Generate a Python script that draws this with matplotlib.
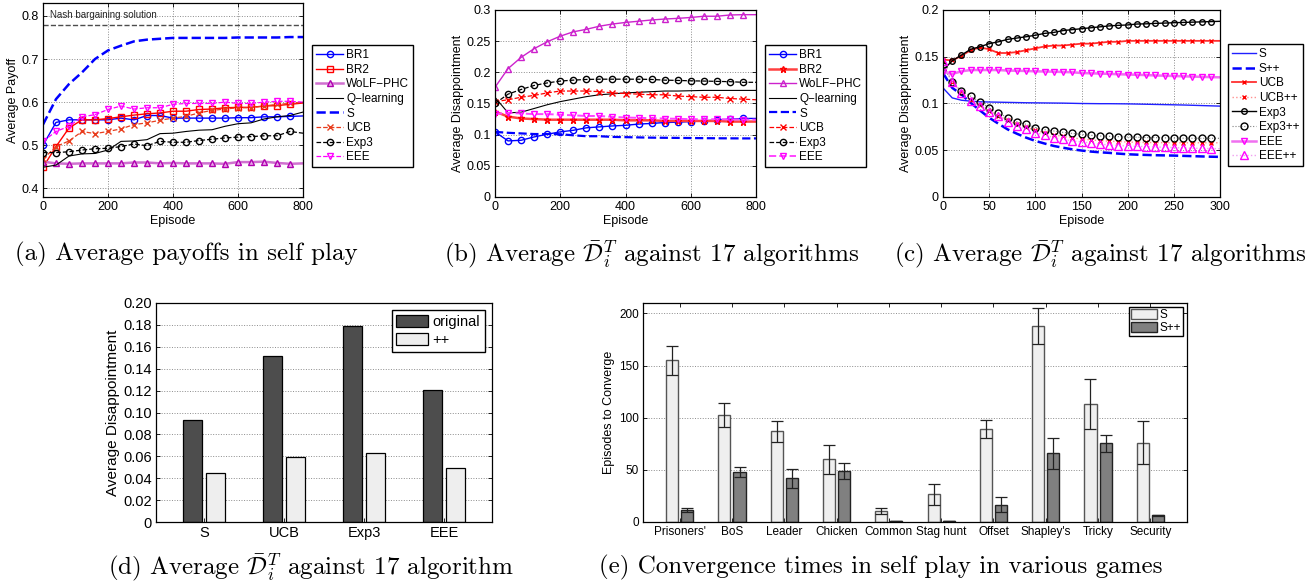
import numpy as np
import matplotlib
matplotlib.use('Agg')
import matplotlib.pyplot as plt
from matplotlib.ticker import FuncFormatter

plt.rcParams['font.family'] = ['Liberation Sans', 'DejaVu Sans']
plt.rcParams['mathtext.fontset'] = 'cm'

# ---------------- data ----------------
# (a) average payoffs in self play, one point every 40 episodes
ep_a = [0, 40, 80, 120, 160, 200, 240, 280, 320, 360, 400, 440, 480, 520, 560, 600, 640, 680, 720, 760, 800]
a_br1 = [0.500, 0.553, 0.559, 0.559, 0.559, 0.559, 0.563, 0.559, 0.569, 0.569, 0.563, 0.563, 0.563, 0.563, 0.563, 0.564, 0.564, 0.566, 0.566, 0.567, 0.568]
a_br2 = [0.449, 0.497, 0.540, 0.559, 0.559, 0.562, 0.566, 0.570, 0.573, 0.575, 0.579, 0.579, 0.583, 0.584, 0.587, 0.588, 0.588, 0.591, 0.592, 0.595, 0.598]
a_wolf = [0.462, 0.458, 0.457, 0.458, 0.458, 0.458, 0.458, 0.460, 0.460, 0.458, 0.459, 0.458, 0.458, 0.458, 0.457, 0.461, 0.461, 0.462, 0.459, 0.457, 0.458]
a_q = [0.449, 0.454, 0.475, 0.480, 0.481, 0.489, 0.509, 0.510, 0.513, 0.527, 0.528, 0.532, 0.535, 0.536, 0.544, 0.550, 0.552, 0.561, 0.566, 0.569, 0.577]
a_s = [0.548, 0.607, 0.642, 0.669, 0.700, 0.720, 0.731, 0.741, 0.745, 0.747, 0.749, 0.749, 0.749, 0.749, 0.749, 0.750, 0.750, 0.750, 0.750, 0.751, 0.751]
a_ucb = [0.468, 0.497, 0.510, 0.532, 0.527, 0.532, 0.538, 0.548, 0.552, 0.558, 0.563, 0.567, 0.575, 0.581, 0.584, 0.587, 0.587, 0.591, 0.595, 0.597, 0.600]
a_exp3 = [0.483, 0.483, 0.485, 0.489, 0.492, 0.493, 0.497, 0.503, 0.499, 0.509, 0.507, 0.507, 0.511, 0.514, 0.517, 0.519, 0.520, 0.522, 0.522, 0.532, 0.528]
a_eee = [0.509, 0.532, 0.544, 0.566, 0.571, 0.583, 0.591, 0.584, 0.587, 0.587, 0.595, 0.597, 0.597, 0.597, 0.600, 0.597, 0.597, 0.600, 0.602, 0.602, 0.600]
nash_value = 0.778

# (b) average disappointment against 17 algorithms
b_br1 = [0.1045, 0.090, 0.091, 0.0964, 0.1007, 0.1045, 0.107, 0.111, 0.1125, 0.114, 0.115, 0.117, 0.118, 0.1195, 0.120, 0.121, 0.122, 0.1237, 0.1248, 0.126, 0.126]
b_br2 = [0.137, 0.129, 0.126, 0.125, 0.124, 0.124, 0.124, 0.124, 0.124, 0.124, 0.123, 0.123, 0.123, 0.122, 0.122, 0.122, 0.122, 0.122, 0.121, 0.121, 0.121]
b_wolf = [0.176, 0.206, 0.224, 0.238, 0.249, 0.258, 0.265, 0.269, 0.274, 0.2775, 0.280, 0.282, 0.284, 0.2855, 0.2866, 0.288, 0.290, 0.290, 0.292, 0.2925, 0.2925]
b_q = [0.160, 0.135, 0.136, 0.142, 0.148, 0.153, 0.157, 0.161, 0.164, 0.1655, 0.167, 0.168, 0.169, 0.170, 0.170, 0.1705, 0.171, 0.171, 0.171, 0.171, 0.171]
b_s = [0.1045, 0.103, 0.102, 0.101, 0.101, 0.1007, 0.099, 0.0975, 0.0975, 0.0964, 0.096, 0.0956, 0.0952, 0.095, 0.0948, 0.0946, 0.0944, 0.0942, 0.0941, 0.094, 0.094]
b_ucb = [0.153, 0.156, 0.160, 0.163, 0.167, 0.170, 0.170, 0.170, 0.169, 0.167, 0.166, 0.165, 0.164, 0.164, 0.162, 0.161, 0.160, 0.160, 0.158, 0.157, 0.156]
b_exp3 = [0.150, 0.165, 0.1725, 0.179, 0.183, 0.186, 0.1875, 0.1886, 0.189, 0.189, 0.189, 0.189, 0.1886, 0.1875, 0.187, 0.1864, 0.186, 0.1855, 0.185, 0.184, 0.184]
b_eee = [0.133, 0.135, 0.134, 0.133, 0.133, 0.132, 0.131, 0.130, 0.130, 0.1286, 0.1275, 0.127, 0.1264, 0.1259, 0.1255, 0.1248, 0.1248, 0.1248, 0.1245, 0.1243, 0.124]

# (c) original vs ++ versions, one point every 10 episodes
ep_c = [0, 10, 20, 30, 40, 50, 60, 70, 80, 90, 100, 110, 120, 130, 140, 150, 160, 170, 180, 190, 200,
        210, 220, 230, 240, 250, 260, 270, 280, 290, 300]
c_s = [0.1167, 0.106, 0.1035, 0.1025, 0.1018, 0.1016, 0.1014, 0.1012, 0.1010, 0.1008, 0.1007, 0.1006, 0.1005, 0.1004, 0.1002, 0.1000,
       0.0999, 0.0998, 0.0998, 0.0997, 0.0996, 0.0994, 0.0992, 0.0990, 0.0988, 0.0986, 0.0984, 0.0981, 0.0978, 0.0975, 0.0972]
c_spp = [0.1326, 0.1167, 0.1096, 0.1007, 0.0926, 0.0848, 0.0784, 0.0723, 0.0677, 0.0635, 0.0600, 0.0572, 0.0546, 0.0527, 0.0510, 0.0497,
         0.0486, 0.0478, 0.0472, 0.0464, 0.0457, 0.0453, 0.0450, 0.0447, 0.0445, 0.0443, 0.0440, 0.0437, 0.0434, 0.0431, 0.0429]
c_ucb = [0.147, 0.146, 0.151, 0.157, 0.160, 0.158, 0.154, 0.154, 0.155, 0.157, 0.159, 0.161, 0.162, 0.162, 0.163, 0.164,
         0.164, 0.165, 0.166, 0.166, 0.167, 0.167, 0.167, 0.167, 0.167, 0.167, 0.167, 0.167, 0.167, 0.167, 0.167]
c_ucbpp = [0.145, 0.123, 0.112, 0.104, 0.098, 0.092, 0.087, 0.082, 0.078, 0.0745, 0.0713, 0.0688, 0.0665, 0.0648, 0.0633, 0.062,
           0.061, 0.0603, 0.0597, 0.0592, 0.0588, 0.0585, 0.0583, 0.0582, 0.0581, 0.058, 0.058, 0.058, 0.058, 0.058, 0.058]
c_exp3 = [0.1357, 0.1457, 0.1518, 0.158, 0.1607, 0.164, 0.166, 0.1686, 0.170, 0.1714, 0.173, 0.175, 0.176, 0.178, 0.179, 0.180,
          0.181, 0.182, 0.183, 0.1836, 0.184, 0.185, 0.1852, 0.1857, 0.186, 0.1864, 0.1867, 0.187, 0.1873, 0.1876, 0.1879]
c_exp3pp = [0.140, 0.123, 0.1131, 0.1078, 0.1018, 0.0954, 0.090, 0.0848, 0.0805, 0.0777, 0.0741, 0.072, 0.0706, 0.0691, 0.068, 0.067,
            0.066, 0.0652, 0.0649, 0.0645, 0.0642, 0.064, 0.0635, 0.0635, 0.0632, 0.0631, 0.0629, 0.0628, 0.0628, 0.0628, 0.0628]
c_eee = [0.134, 0.1316, 0.1344, 0.1358, 0.1358, 0.1358, 0.1358, 0.1352, 0.1350, 0.1348, 0.1344, 0.1342, 0.1340, 0.1337, 0.1334, 0.1326,
         0.1323, 0.1320, 0.1317, 0.1313, 0.1310, 0.1307, 0.1304, 0.1300, 0.1297, 0.1294, 0.1291, 0.1288, 0.1285, 0.1282, 0.128]
c_eeepp = [0.145, 0.123, 0.1113, 0.103, 0.097, 0.0911, 0.0865, 0.080, 0.0759, 0.0723, 0.0688, 0.0663, 0.0635, 0.0617, 0.060, 0.0589,
           0.0578, 0.0564, 0.0557, 0.055, 0.0546, 0.0542, 0.0539, 0.0535, 0.0532, 0.0529, 0.0525, 0.0522, 0.052, 0.0518, 0.0516]

# (d) bar chart
d_algos = ['S', 'UCB', 'Exp3', 'EEE']
d_original = [0.093, 0.152, 0.179, 0.121]
d_plusplus = [0.045, 0.059, 0.063, 0.049]

# (e) convergence times
e_games = ["Prisoners'", 'BoS', 'Leader', 'Chicken', 'Common', 'Stag hunt', 'Offset', "Shapley's", 'Tricky', 'Security']
e_s = [155, 103, 87, 60, 10.5, 26.5, 89, 188, 113, 76]
e_s_err = [14, 11.5, 10, 14, 2.5, 10, 8.5, 17.5, 24, 20.5]
e_spp = [11.5, 48, 42, 49, 0.5, 1, 16.5, 66, 75.5, 6.5]
e_spp_err = [2, 4.5, 9, 8, 0, 0, 7, 15, 8, 0.5]

# ---------------- figure ----------------
W, H = 1312, 587
fig = plt.figure(figsize=(W / 100, H / 100), dpi=100)


def px_axes(left, top, right, bottom):
    return fig.add_axes([left / W, 1 - bottom / H, (right - left) / W, (bottom - top) / H])


def matlab_style(ax, fs=9, grid_x=True):
    ax.tick_params(direction='in', top=True, right=True, length=3, width=0.6, labelsize=fs, pad=3)
    for sp in ax.spines.values():
        sp.set_linewidth(0.9)
    if grid_x:
        ax.grid(True, linestyle=':', color='0.55', linewidth=0.7)
    else:
        ax.yaxis.grid(True, linestyle=':', color='0.55', linewidth=0.7)
    ax.set_axisbelow(True)


def fig_legend(ax, left, top, fs=8.5, **kw):
    leg = ax.legend(loc='upper left', bbox_to_anchor=(left / W, 1 - top / H), bbox_transform=fig.transFigure,
                    fontsize=fs, fancybox=False, framealpha=1, edgecolor='black', borderaxespad=0, **kw)
    leg.get_frame().set_linewidth(1.0)
    return leg


gfmt = FuncFormatter(lambda v, p: '%g' % round(v, 4))
ms = 4.5
every = slice(0, -1)
leg_kw = dict(handlelength=2.3, labelspacing=0.22, handletextpad=0.25, borderpad=0.35)

# (a)
ax = px_axes(43, 3, 303, 197)
ax.plot(ep_a, a_br1, '-', color='#0000ff', lw=1, marker='o', ms=ms, mfc='none', markevery=every, label='BR1')
ax.plot(ep_a, a_br2, '-', color='#ff0000', lw=1, marker='s', ms=ms, mfc='none', markevery=every, label='BR2')
ax.plot(ep_a, a_wolf, '-', color='#d070d0', lw=1.8, marker='^', ms=ms, mfc='#e8a8e8', mec='#b000b0',
        markevery=every, label='WoLF\u2212PHC')
ax.plot(ep_a, a_q, '-', color='black', lw=0.8, label='Q\u2212learning')
ax.plot(ep_a, a_s, '--', color='#0000ff', lw=1.8, label='S')
ax.plot(ep_a, a_ucb, '--', color='#e83c1c', lw=0.9, marker='x', ms=ms, markevery=every, label='UCB')
ax.plot(ep_a, a_exp3, '--', color='black', lw=0.9, marker='o', ms=ms, mfc='none', markevery=every, label='Exp3')
ax.plot(ep_a, a_eee, '--', color='#ff00ff', lw=0.9, marker='v', ms=ms + 0.5, mfc='none', markevery=every, label='EEE')
ax.axhline(nash_value, color='0.3', ls='--', lw=1)
ax.text(20, 0.802, 'Nash bargaining solution', fontsize=7, color='0.15', va='center')
ax.set_xlim(0, 800)
ax.set_ylim(0.38, 0.83)
ax.set_xticks([0, 200, 400, 600, 800])
ax.set_yticks([0.4, 0.5, 0.6, 0.7, 0.8])
ax.set_xlabel('Episode', fontsize=9, labelpad=1)
ax.set_ylabel('Average Payoff', fontsize=9, labelpad=2)
matlab_style(ax)
fig_legend(ax, 312, 45, **leg_kw)

# (b)
ax = px_axes(495, 10, 756, 197)
ax.plot(ep_a, b_br1, '-', color='#0000ff', lw=1, marker='o', ms=ms, mfc='none', markevery=every, label='BR1')
ax.plot(ep_a, b_br2, '-', color='#ff4040', lw=1.8, marker='*', ms=ms + 0.5, mec='#ff0000', markevery=every, label='BR2')
ax.plot(ep_a, b_wolf, '-', color='#cc22cc', lw=1, marker='^', ms=ms + 0.5, mfc='none', markevery=every, label='WoLF\u2212PHC')
ax.plot(ep_a, b_q, '-', color='black', lw=0.8, label='Q\u2212learning')
ax.plot(ep_a, b_s, '--', color='#0000ff', lw=1.6, label='S')
ax.plot(ep_a, b_ucb, '--', color='#ff0000', lw=0.9, marker='x', ms=ms, markevery=every, label='UCB')
ax.plot(ep_a, b_exp3, '--', color='black', lw=0.9, marker='o', ms=ms, mfc='none', markevery=every, label='Exp3')
ax.plot(ep_a, b_eee, '--', color='#ff44ff', lw=1.4, marker='v', ms=ms + 0.5, mfc='none', mec='#ff00ff',
        markevery=every, label='EEE')
ax.set_xlim(0, 800)
ax.set_ylim(0, 0.3)
ax.set_xticks([0, 200, 400, 600, 800])
ax.set_yticks([0, 0.05, 0.1, 0.15, 0.2, 0.25, 0.3])
ax.yaxis.set_major_formatter(gfmt)
ax.set_xlabel('Episode', fontsize=9, labelpad=1)
ax.set_ylabel('Average Disappointment', fontsize=9, labelpad=2)
matlab_style(ax)
fig_legend(ax, 765, 45, **leg_kw)

# (c)
ax = px_axes(943, 10, 1220, 197)
every_c = slice(0, -1)
ax.plot(ep_c, c_s, '-', color='#2020ff', lw=1, label='S')
ax.plot(ep_c, c_spp, '--', color='#0000ff', lw=1.8, label='S++')
ax.plot(ep_c, c_ucb, '-', color='#ff3030', lw=1.3, marker='x', ms=3.5, mec='#ff0000', markevery=every_c, label='UCB')
ax.plot(ep_c, c_ucbpp, ':', color='#ff9090', lw=1, marker='x', ms=3.5, mec='#ff0000', markevery=every_c, label='UCB++')
ax.plot(ep_c, c_exp3, '-', color='black', lw=1, marker='o', ms=4, mfc='none', markevery=every_c, label='Exp3')
ax.plot(ep_c, c_exp3pp, ':', color='0.5', lw=0.8, marker='o', ms=5, mfc='none', mec='black', markevery=every_c,
        label='Exp3++')
ax.plot(ep_c, c_eee, '-', color='#f070f0', lw=1.8, marker='v', ms=5, mfc='none', mec='#ff00ff', markevery=every_c,
        label='EEE')
ax.plot(ep_c, c_eeepp, ':', color='#f0a0f0', lw=1, marker='^', ms=5.5, mfc='none', mec='#ff00ff', markevery=every_c,
        label='EEE++')
ax.set_xlim(0, 300)
ax.set_ylim(0, 0.2)
ax.set_xticks([0, 50, 100, 150, 200, 250, 300])
ax.set_yticks([0, 0.05, 0.1, 0.15, 0.2])
ax.yaxis.set_major_formatter(gfmt)
ax.set_xlabel('Episode', fontsize=9, labelpad=1)
ax.set_ylabel('Average Disappointment', fontsize=9, labelpad=2)
matlab_style(ax)
fig_legend(ax, 1228, 44, handlelength=2.0, labelspacing=0.22, handletextpad=0.25, borderpad=0.35)

# (d)
ax = px_axes(156, 303, 492, 522)
xd = np.arange(1, len(d_algos) + 1)
ax.bar(xd - 0.145, d_original, 0.23, color='#4d4d4d', edgecolor='black', lw=0.9, label='original')
ax.bar(xd + 0.145, d_plusplus, 0.23, color='#eeeeee', edgecolor='black', lw=0.9, label='++')
ax.set_xlim(0.4, 4.6)
ax.set_ylim(0, 0.2)
ax.set_xticks(xd)
ax.set_xticklabels(d_algos)
ax.set_yticks(np.arange(0, 0.201, 0.02))
ax.yaxis.set_major_formatter(FuncFormatter(lambda v, p: '0' if abs(v) < 1e-9 else '%.2f' % v))
ax.set_ylabel('Average Disappointment', fontsize=11, labelpad=2)
matlab_style(ax, fs=10.5, grid_x=False)
ax.tick_params(top=False)
ax.legend(loc='upper right', fontsize=10.5, fancybox=False, framealpha=1, edgecolor='black', borderaxespad=0.5,
          handlelength=2.2, handleheight=0.9, handletextpad=0.3, labelspacing=0.3, borderpad=0.3).get_frame().set_linewidth(1)

# (e)
ax = px_axes(643, 303, 1187, 522)
xe = np.arange(1, len(e_games) + 1)
ekw = dict(ecolor='#222222', elinewidth=0.9, capsize=4, capthick=0.9)
ax.bar(xe - 0.145, e_s, 0.23, yerr=e_s_err, color='#efefef', edgecolor='#555555', lw=1, error_kw=ekw, label='S')
ax.bar(xe + 0.145, e_spp, 0.23, yerr=e_spp_err, color='#808080', edgecolor='#222222', lw=1, error_kw=ekw, label='S++')
ax.set_xlim(0.3, 10.7)
ax.set_ylim(0, 210)
ax.set_xticks(xe)
ax.set_xticklabels(e_games)
ax.set_yticks([0, 50, 100, 150, 200])
ax.set_ylabel('Episodes to Converge', fontsize=9, labelpad=3)
matlab_style(ax, fs=8.5, grid_x=False)
ax.legend(loc='upper right', fontsize=8.5, fancybox=False, framealpha=1, edgecolor='black', borderaxespad=0.3,
          handlelength=2.2, handleheight=0.9, handletextpad=0.2, labelspacing=0.1, borderpad=0.2).get_frame().set_linewidth(1)

# captions
cap = dict(fontsize=18, family='cmr10', ha='center', va='center')
Dbar = r'$\bar{\mathcal{D}}_i^T$'
fig.text(186 / W, 1 - 254 / H, '(a) Average payoffs in self play', **cap)
fig.text(652 / W, 1 - 254 / H, '(b) Average ' + Dbar + ' against 17 algorithms', **cap)
fig.text(1100 / W, 1 - 254 / H, '(c) Average ' + Dbar + ' against 17 algorithms', **cap)
fig.text(311 / W, 1 - 567 / H, '(d) Average ' + Dbar + ' against 17 algorithm', **cap)
fig.text(881 / W, 1 - 567 / H, '(e) Convergence times in self play in various games', **cap)

fig.savefig('out.png', dpi=100)
